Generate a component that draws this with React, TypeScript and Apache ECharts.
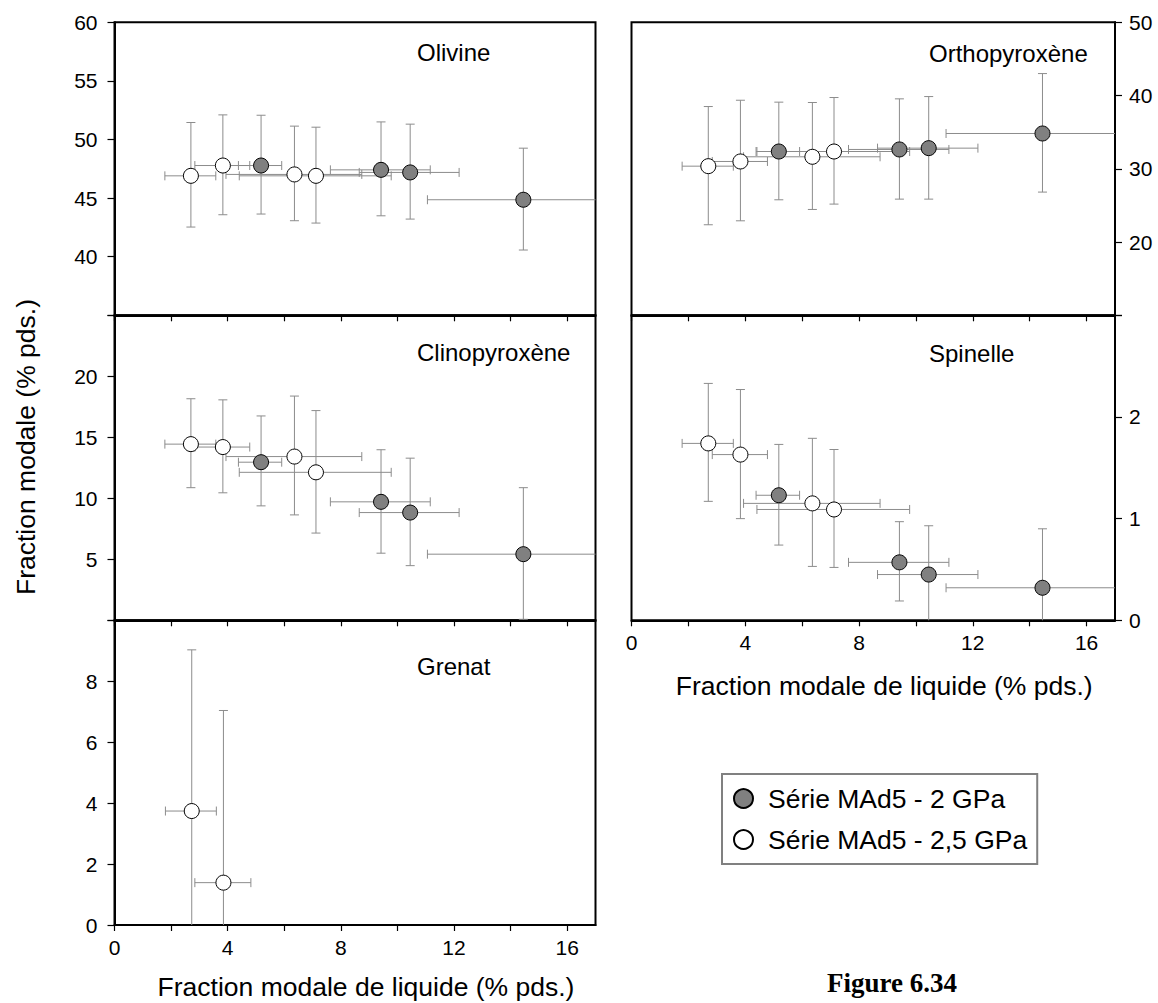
import React, { useEffect, useRef } from "react";
import * as echarts from "echarts";

const FONT = "'Liberation Sans', Arial, Helvetica, sans-serif";
const SERIF = "'Liberation Serif', 'Times New Roman', serif";

// Series names
const name2 = "Série MAd5 - 2 GPa";
const name25 = "Série MAd5 - 2,5 GPa";

// Liquid modal fraction (x) with error ranges
const liq2 = [5.18, 9.42, 10.45, 14.45];
const liq2Low = [4.38, 7.63, 8.65, 11.06];
const liq2High = [5.91, 11.16, 12.18, 17.8];
const liq25 = [2.7, 3.83, 6.36, 7.12];
const liq25Low = [1.78, 2.84, 3.94, 4.41];
const liq25High = [3.58, 4.78, 8.74, 9.78];

// Olivine
const ol2 = [47.78, 47.41, 47.19, 44.86];
const ol2Low = [43.64, 43.49, 43.21, 40.57];
const ol2High = [52.07, 51.5, 51.31, 49.26];
const ol25 = [46.9, 47.78, 47.02, 46.9];
const ol25Low = [42.53, 43.58, 43.07, 42.87];
const ol25High = [51.45, 52.1, 51.14, 51.05];

// Orthopyroxène
const opx2 = [32.36, 32.64, 32.82, 34.82];
const opx2Low = [25.77, 25.86, 25.86, 26.82];
const opx2High = [39.1, 39.55, 39.86, 43.0];
const opx25 = [30.36, 31.0, 31.64, 32.36];
const opx25Low = [22.36, 22.9, 24.45, 25.18];
const opx25High = [38.5, 39.36, 39.05, 39.73];

// Clinopyroxène
const cpx2 = [12.96, 9.71, 8.83, 5.42];
const cpx2Low = [9.38, 5.5, 4.48, 0.08];
const cpx2High = [16.75, 13.98, 13.29, 10.87];
const cpx25 = [14.44, 14.2, 13.42, 12.13];
const cpx25Low = [10.87, 10.45, 8.64, 7.15];
const cpx25High = [18.16, 18.07, 18.38, 17.19];

// Spinelle
const sp2 = [1.23, 0.57, 0.45, 0.32];
const sp2Low = [0.74, 0.19, -0.03, -0.26];
const sp2High = [1.73, 0.97, 0.93, 0.9];
const sp25 = [1.74, 1.63, 1.15, 1.09];
const sp25Low = [1.17, 1.0, 0.53, 0.52];
const sp25High = [2.33, 2.27, 1.79, 1.68];

// Grenat (only the two lowest-melt 2,5 GPa runs)
const grtX = [2.73, 3.85];
const grtXLow = [1.8, 2.84];
const grtXHigh = [3.6, 4.82];
const grt25 = [3.74, 1.39];
const grt25Low = [-1.55, -4.26];
const grt25High = [9.03, 7.04];

// Tick values / labels
const xTicks = [0, 2, 4, 6, 8, 10, 12, 14, 16];
const xLabels = [0, 4, 8, 12, 16];
const olYTicks = [35, 40, 45, 50, 55, 60];
const olYLabels = [40, 45, 50, 55, 60];
const cpxYTicks = [0, 5, 10, 15, 20, 25];
const cpxYLabels = [5, 10, 15, 20];
const grtYTicks = [0, 2, 4, 6, 8, 10];
const grtYLabels = [0, 2, 4, 6, 8];
const opxYTicks = [10, 20, 30, 40, 50];
const opxYLabels = [20, 30, 40, 50];
const spYTicks = [0, 1, 2, 3];
const spYLabels = [0, 1, 2];

const xTitle = "Fraction modale de liquide (% pds.)";
const yTitle = "Fraction modale (% pds.)";

function pts(xs: number[], xl: number[], xh: number[], ys: number[], yl: number[], yh: number[]) {
  return xs.map((x, i) => [x, ys[i], xl[i], xh[i], yl[i], yh[i]]);
}

type Panel = {
  label: string;
  grid: { left: number; top: number; width: number; height: number };
  yMin: number;
  yMax: number;
  yTicks: number[];
  yLabels: number[];
  yPos: "left" | "right";
  bottom: boolean;
  nameGap: number;
  labelXY: [number, number];
  d2: number[][] | null;
  d25: number[][];
};

const LW = 481;
const RW = 483.5;

const panels: Panel[] = [
  {
    label: "Olivine",
    grid: { left: 114.5, top: 22.3, width: LW, height: 293 },
    yMin: 35, yMax: 60, yTicks: olYTicks, yLabels: olYLabels, yPos: "left", bottom: false, nameGap: 0,
    labelXY: [417, 52],
    d2: pts(liq2, liq2Low, liq2High, ol2, ol2Low, ol2High),
    d25: pts(liq25, liq25Low, liq25High, ol25, ol25Low, ol25High),
  },
  {
    label: "Clinopyroxène",
    grid: { left: 114.5, top: 315.3, width: LW, height: 305 },
    yMin: 0, yMax: 25, yTicks: cpxYTicks, yLabels: cpxYLabels, yPos: "left", bottom: false, nameGap: 0,
    labelXY: [417, 352],
    d2: pts(liq2, liq2Low, liq2High, cpx2, cpx2Low, cpx2High),
    d25: pts(liq25, liq25Low, liq25High, cpx25, cpx25Low, cpx25High),
  },
  {
    label: "Grenat",
    grid: { left: 114.5, top: 620.3, width: LW, height: 304.7 },
    yMin: 0, yMax: 10, yTicks: grtYTicks, yLabels: grtYLabels, yPos: "left", bottom: true, nameGap: 48,
    labelXY: [417, 666],
    d2: null,
    d25: pts(grtX, grtXLow, grtXHigh, grt25, grt25Low, grt25High),
  },
  {
    label: "Orthopyroxène",
    grid: { left: 631.5, top: 22.3, width: RW, height: 293 },
    yMin: 10, yMax: 50, yTicks: opxYTicks, yLabels: opxYLabels, yPos: "right", bottom: false, nameGap: 0,
    labelXY: [929, 53],
    d2: pts(liq2, liq2Low, liq2High, opx2, opx2Low, opx2High),
    d25: pts(liq25, liq25Low, liq25High, opx25, opx25Low, opx25High),
  },
  {
    label: "Spinelle",
    grid: { left: 631.5, top: 315.3, width: RW, height: 305 },
    yMin: 0, yMax: 3, yTicks: spYTicks, yLabels: spYLabels, yPos: "right", bottom: true, nameGap: 52,
    labelXY: [929, 353],
    d2: pts(liq2, liq2Low, liq2High, sp2, sp2Low, sp2High),
    d25: pts(liq25, liq25Low, liq25High, sp25, sp25Low, sp25High),
  },
];

const X_MIN = 0;
const X_MAX = 17;
const CAP = 4.5;
const ERR_COLOR = "#8c8c8c";

function errSeries(idx: number, p: Panel, data: number[][]) {
  return {
    type: "custom",
    xAxisIndex: idx,
    yAxisIndex: idx,
    z: 1,
    silent: true,
    encode: { x: 0, y: 1 },
    data,
    renderItem: (_params: any, api: any) => {
      const x = api.value(0);
      const y = api.value(1);
      const xl = api.value(2);
      const xh = api.value(3);
      const yl = api.value(4);
      const yh = api.value(5);
      const cxl = Math.max(xl, X_MIN);
      const cxh = Math.min(xh, X_MAX);
      const cyl = Math.max(yl, p.yMin);
      const cyh = Math.min(yh, p.yMax);
      const a = api.coord([cxl, y]);
      const b = api.coord([cxh, y]);
      const c = api.coord([x, cyl]);
      const d = api.coord([x, cyh]);
      const style = { stroke: ERR_COLOR, lineWidth: 1, fill: "none" };
      const children: any[] = [
        { type: "line", shape: { x1: a[0], y1: a[1], x2: b[0], y2: b[1] }, style },
        { type: "line", shape: { x1: c[0], y1: c[1], x2: d[0], y2: d[1] }, style },
      ];
      if (xl >= X_MIN) children.push({ type: "line", shape: { x1: a[0], y1: a[1] - CAP, x2: a[0], y2: a[1] + CAP }, style });
      if (xh <= X_MAX) children.push({ type: "line", shape: { x1: b[0], y1: b[1] - CAP, x2: b[0], y2: b[1] + CAP }, style });
      if (yl >= p.yMin) children.push({ type: "line", shape: { x1: c[0] - CAP, y1: c[1], x2: c[0] + CAP, y2: c[1] }, style });
      if (yh <= p.yMax) children.push({ type: "line", shape: { x1: d[0] - CAP, y1: d[1], x2: d[0] + CAP, y2: d[1] }, style });
      return { type: "group", children };
    },
  };
}

function dotSeries(idx: number, name: string, data: number[][], filled: boolean) {
  return {
    type: "scatter",
    name,
    xAxisIndex: idx,
    yAxisIndex: idx,
    z: 3,
    symbol: "circle",
    symbolSize: 15,
    data: data.map((r) => [r[0], r[1]]),
    itemStyle: { color: filled ? "#808080" : "#ffffff", borderColor: "#000", borderWidth: 1, opacity: 1 },
    emphasis: { disabled: true },
  };
}

function buildOption() {
  const tickLine = { color: "#000", width: 1.2 };
  const axisLine = { show: true, onZero: false, lineStyle: { color: "#000", width: 2 } };
  const labelStyle = { color: "#000", fontSize: 21, fontFamily: FONT };

  const grid = panels.map((p) => ({
    ...p.grid,
    show: true,
    borderColor: "#000",
    borderWidth: 2,
    backgroundColor: "transparent",
    containLabel: false,
    outerBoundsMode: "none",
  }));

  const xAxis = panels.map((p, i) => ({
    type: "value",
    gridIndex: i,
    position: "bottom",
    min: X_MIN,
    max: X_MAX,
    axisLine,
    axisTick: { show: true, inside: false, length: 6, customValues: xTicks, lineStyle: tickLine },
    axisLabel: { show: p.bottom, customValues: xLabels, margin: 12, ...labelStyle },
    splitLine: { show: false },
    name: p.bottom ? xTitle : "",
    nameLocation: "middle",
    nameGap: p.nameGap,
    nameTextStyle: { color: "#000", fontSize: 26.5, fontFamily: FONT, padding: [0, 0, 0, 22] },
  }));

  const yAxis = panels.map((p, i) => ({
    type: "value",
    gridIndex: i,
    min: p.yMin,
    max: p.yMax,
    position: p.yPos,
    axisLine,
    axisTick: { show: true, inside: false, length: 7, customValues: p.yTicks, lineStyle: tickLine },
    axisLabel: { show: true, customValues: p.yLabels, margin: p.yPos === "left" ? 17 : 14, ...labelStyle },
    splitLine: { show: false },
  }));

  const series: any[] = [];
  panels.forEach((p, i) => {
    series.push(errSeries(i, p, p.d25));
    if (p.d2) series.push(errSeries(i, p, p.d2));
  });
  panels.forEach((p, i) => {
    if (p.d2) series.push(dotSeries(i, name2, p.d2, true));
    series.push(dotSeries(i, name25, p.d25, false));
  });

  const graphic: any[] = panels.map((p) => ({
    type: "text",
    x: p.labelXY[0],
    y: p.labelXY[1],
    silent: true,
    style: { text: p.label, fill: "#000", fontSize: 24, fontFamily: FONT, align: "left", verticalAlign: "middle" },
  }));
  graphic.push({
    type: "text",
    x: 26,
    y: 447,
    rotation: Math.PI / 2,
    silent: true,
    style: { text: yTitle, fill: "#000", fontSize: 26.5, fontFamily: FONT, align: "center", verticalAlign: "middle" },
  });
  graphic.push({
    type: "text",
    x: 892,
    y: 983,
    silent: true,
    style: { text: "Figure 6.34", fill: "#000", fontSize: 27, fontWeight: "bold", fontFamily: SERIF, align: "center", verticalAlign: "middle" },
  });

  return {
    animation: false,
    backgroundColor: "#ffffff",
    textStyle: { fontFamily: FONT },
    grid,
    xAxis,
    yAxis,
    legend: {
      show: true,
      orient: "vertical",
      left: 722,
      top: 774,
      data: [name2, name25],
      icon: "circle",
      itemWidth: 39,
      itemHeight: 19,
      itemGap: 14,
      padding: [11, 10, 11, 11],
      borderColor: "#808080",
      borderWidth: 2,
      selectedMode: false,
      textStyle: { color: "#000", fontSize: 26.5, fontFamily: FONT },
    },
    graphic,
    series,
  };
}

export default function App() {
  const ref = useRef<HTMLDivElement>(null);
  useEffect(() => {
    if (!ref.current) return;
    const chart = echarts.init(ref.current, undefined, { renderer: "svg" });
    chart.setOption(buildOption() as any);
    return () => chart.dispose();
  }, []);
  return (
    <div
      ref={ref}
      style={{ position: "absolute", left: 0, top: 0, width: 1158, height: 1003, background: "#fff" }}
    />
  );
}
